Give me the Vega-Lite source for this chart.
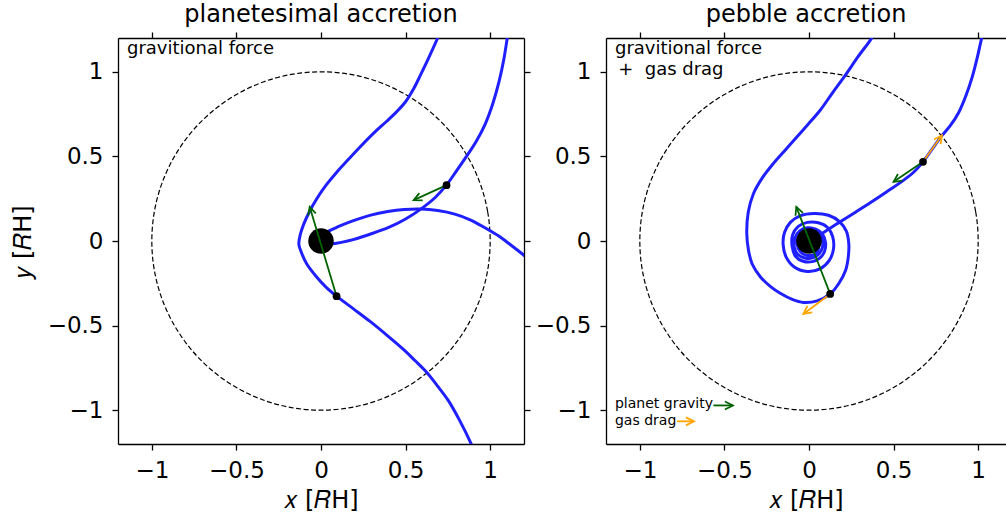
{
  "$schema": "https://vega.github.io/schema/vega-lite/v6.json",
  "padding": {"left": 11, "top": 3, "right": 0, "bottom": 0},
  "spacing": 4,
  "datasets": {
    "circle": [
      {"i":0,"x":1,"y":0},{"i":1,"x":0.985,"y":0.174},{"i":2,"x":0.94,"y":0.342},{"i":3,"x":0.866,"y":0.5},
      {"i":4,"x":0.766,"y":0.643},{"i":5,"x":0.643,"y":0.766},{"i":6,"x":0.5,"y":0.866},{"i":7,"x":0.342,"y":0.94},
      {"i":8,"x":0.174,"y":0.985},{"i":9,"x":0,"y":1},{"i":10,"x":-0.174,"y":0.985},{"i":11,"x":-0.342,"y":0.94},
      {"i":12,"x":-0.5,"y":0.866},{"i":13,"x":-0.643,"y":0.766},{"i":14,"x":-0.766,"y":0.643},{"i":15,"x":-0.866,"y":0.5},
      {"i":16,"x":-0.94,"y":0.342},{"i":17,"x":-0.985,"y":0.174},{"i":18,"x":-1,"y":0},{"i":19,"x":-0.985,"y":-0.174},
      {"i":20,"x":-0.94,"y":-0.342},{"i":21,"x":-0.866,"y":-0.5},{"i":22,"x":-0.766,"y":-0.643},{"i":23,"x":-0.643,"y":-0.766},
      {"i":24,"x":-0.5,"y":-0.866},{"i":25,"x":-0.342,"y":-0.94},{"i":26,"x":-0.174,"y":-0.985},{"i":27,"x":0,"y":-1},
      {"i":28,"x":0.174,"y":-0.985},{"i":29,"x":0.342,"y":-0.94},{"i":30,"x":0.5,"y":-0.866},{"i":31,"x":0.643,"y":-0.766},
      {"i":32,"x":0.766,"y":-0.643},{"i":33,"x":0.866,"y":-0.5},{"i":34,"x":0.94,"y":-0.342},{"i":35,"x":0.985,"y":-0.174}
    ],
    "planet": [{"x":0,"y":0}],
    "curves": [
      {"panel":"L","id":"L1","i":0,"x":0.712,"y":1.25},{"panel":"L","id":"L1","i":1,"x":0.690,"y":1.2},
      {"panel":"L","id":"L1","i":2,"x":0.640,"y":1.09},{"panel":"L","id":"L1","i":3,"x":0.590,"y":0.985},
      {"panel":"L","id":"L1","i":4,"x":0.545,"y":0.895},{"panel":"L","id":"L1","i":5,"x":0.500,"y":0.823},
      {"panel":"L","id":"L1","i":6,"x":0.448,"y":0.765},{"panel":"L","id":"L1","i":7,"x":0.385,"y":0.705},
      {"panel":"L","id":"L1","i":8,"x":0.310,"y":0.636},{"panel":"L","id":"L1","i":9,"x":0.235,"y":0.560},
      {"panel":"L","id":"L1","i":10,"x":0.160,"y":0.480},{"panel":"L","id":"L1","i":11,"x":0.093,"y":0.407},
      {"panel":"L","id":"L1","i":12,"x":0.030,"y":0.330},{"panel":"L","id":"L1","i":13,"x":-0.025,"y":0.250},
      {"panel":"L","id":"L1","i":14,"x":-0.070,"y":0.170},{"panel":"L","id":"L1","i":15,"x":-0.102,"y":0.100},
      {"panel":"L","id":"L1","i":16,"x":-0.122,"y":0.040},{"panel":"L","id":"L1","i":17,"x":-0.131,"y":-0.018},
      {"panel":"L","id":"L1","i":18,"x":-0.117,"y":-0.065},{"panel":"L","id":"L1","i":19,"x":-0.084,"y":-0.136},
      {"panel":"L","id":"L1","i":20,"x":-0.027,"y":-0.211},{"panel":"L","id":"L1","i":21,"x":0.028,"y":-0.271},
      {"panel":"L","id":"L1","i":22,"x":0.092,"y":-0.326},{"panel":"L","id":"L1","i":23,"x":0.192,"y":-0.401},
      {"panel":"L","id":"L1","i":24,"x":0.292,"y":-0.477},{"panel":"L","id":"L1","i":25,"x":0.392,"y":-0.559},
      {"panel":"L","id":"L1","i":26,"x":0.492,"y":-0.645},{"panel":"L","id":"L1","i":27,"x":0.557,"y":-0.708},
      {"panel":"L","id":"L1","i":28,"x":0.622,"y":-0.773},{"panel":"L","id":"L1","i":29,"x":0.687,"y":-0.855},
      {"panel":"L","id":"L1","i":30,"x":0.751,"y":-0.941},{"panel":"L","id":"L1","i":31,"x":0.817,"y":-1.056},
      {"panel":"L","id":"L1","i":32,"x":0.885,"y":-1.193},{"panel":"L","id":"L1","i":33,"x":0.909,"y":-1.251},

      {"panel":"L","id":"L2","i":0,"x":1.108,"y":1.25},{"panel":"L","id":"L2","i":1,"x":1.101,"y":1.2},
      {"panel":"L","id":"L2","i":2,"x":1.080,"y":1.07},{"panel":"L","id":"L2","i":3,"x":1.052,"y":0.94},
      {"panel":"L","id":"L2","i":4,"x":1.015,"y":0.81},{"panel":"L","id":"L2","i":5,"x":0.970,"y":0.69},
      {"panel":"L","id":"L2","i":6,"x":0.918,"y":0.59},{"panel":"L","id":"L2","i":7,"x":0.860,"y":0.50},
      {"panel":"L","id":"L2","i":8,"x":0.800,"y":0.413},{"panel":"L","id":"L2","i":9,"x":0.741,"y":0.330},
      {"panel":"L","id":"L2","i":10,"x":0.675,"y":0.257},{"panel":"L","id":"L2","i":11,"x":0.600,"y":0.196},
      {"panel":"L","id":"L2","i":12,"x":0.500,"y":0.130},{"panel":"L","id":"L2","i":13,"x":0.400,"y":0.080},
      {"panel":"L","id":"L2","i":14,"x":0.290,"y":0.040},{"panel":"L","id":"L2","i":15,"x":0.190,"y":0.008},
      {"panel":"L","id":"L2","i":16,"x":0.120,"y":-0.008},{"panel":"L","id":"L2","i":17,"x":0.070,"y":-0.016},
      {"panel":"L","id":"L2","i":18,"x":0.017,"y":-0.018},

      {"panel":"L","id":"L3","i":0,"x":0.0,"y":0.024},{"panel":"L","id":"L3","i":1,"x":0.043,"y":0.057},
      {"panel":"L","id":"L3","i":2,"x":0.105,"y":0.086},{"panel":"L","id":"L3","i":3,"x":0.192,"y":0.120},
      {"panel":"L","id":"L3","i":4,"x":0.294,"y":0.153},{"panel":"L","id":"L3","i":5,"x":0.395,"y":0.174},
      {"panel":"L","id":"L3","i":6,"x":0.492,"y":0.186},{"panel":"L","id":"L3","i":7,"x":0.590,"y":0.189},
      {"panel":"L","id":"L3","i":8,"x":0.690,"y":0.180},{"panel":"L","id":"L3","i":9,"x":0.791,"y":0.159},
      {"panel":"L","id":"L3","i":10,"x":0.885,"y":0.124},{"panel":"L","id":"L3","i":11,"x":0.971,"y":0.077},
      {"panel":"L","id":"L3","i":12,"x":1.051,"y":0.029},{"panel":"L","id":"L3","i":13,"x":1.122,"y":-0.024},
      {"panel":"L","id":"L3","i":14,"x":1.194,"y":-0.080},{"panel":"L","id":"L3","i":15,"x":1.24,"y":-0.118},

      {"panel":"R","id":"R1","i":0,"x":0.391,"y":1.245},{"panel":"R","id":"R1","i":1,"x":0.372,"y":1.202},
      {"panel":"R","id":"R1","i":2,"x":0.291,"y":1.091},{"panel":"R","id":"R1","i":3,"x":0.214,"y":0.979},
      {"panel":"R","id":"R1","i":4,"x":0.137,"y":0.873},{"panel":"R","id":"R1","i":5,"x":0.066,"y":0.773},
      {"panel":"R","id":"R1","i":6,"x":-0.005,"y":0.690},{"panel":"R","id":"R1","i":7,"x":-0.072,"y":0.615},
      {"panel":"R","id":"R1","i":8,"x":-0.141,"y":0.537},{"panel":"R","id":"R1","i":9,"x":-0.210,"y":0.459},
      {"panel":"R","id":"R1","i":10,"x":-0.277,"y":0.372},{"panel":"R","id":"R1","i":11,"x":-0.328,"y":0.281},
      {"panel":"R","id":"R1","i":12,"x":-0.359,"y":0.171},{"panel":"R","id":"R1","i":13,"x":-0.368,"y":0.047},
      {"panel":"R","id":"R1","i":14,"x":-0.358,"y":-0.053},{"panel":"R","id":"R1","i":15,"x":-0.336,"y":-0.136},
      {"panel":"R","id":"R1","i":16,"x":-0.288,"y":-0.211},{"panel":"R","id":"R1","i":17,"x":-0.229,"y":-0.268},
      {"panel":"R","id":"R1","i":18,"x":-0.170,"y":-0.309},{"panel":"R","id":"R1","i":19,"x":-0.099,"y":-0.345},
      {"panel":"R","id":"R1","i":20,"x":-0.033,"y":-0.363},{"panel":"R","id":"R1","i":21,"x":0.048,"y":-0.354},
      {"panel":"R","id":"R1","i":22,"x":0.125,"y":-0.313},{"panel":"R","id":"R1","i":23,"x":0.178,"y":-0.248},
      {"panel":"R","id":"R1","i":24,"x":0.217,"y":-0.171},{"panel":"R","id":"R1","i":25,"x":0.233,"y":-0.088},
      {"panel":"R","id":"R1","i":26,"x":0.235,"y":-0.012},{"panel":"R","id":"R1","i":27,"x":0.22,"y":0.06},
      {"panel":"R","id":"R1","i":28,"x":0.18,"y":0.115},{"panel":"R","id":"R1","i":29,"x":0.115,"y":0.152},
      {"panel":"R","id":"R1","i":30,"x":0.03,"y":0.163},{"panel":"R","id":"R1","i":31,"x":-0.05,"y":0.15},
      {"panel":"R","id":"R1","i":32,"x":-0.11,"y":0.11},{"panel":"R","id":"R1","i":33,"x":-0.145,"y":0.05},
      {"panel":"R","id":"R1","i":34,"x":-0.153,"y":-0.02},{"panel":"R","id":"R1","i":35,"x":-0.135,"y":-0.095},
      {"panel":"R","id":"R1","i":36,"x":-0.085,"y":-0.155},{"panel":"R","id":"R1","i":37,"x":-0.01,"y":-0.18},
      {"panel":"R","id":"R1","i":38,"x":0.065,"y":-0.165},{"panel":"R","id":"R1","i":39,"x":0.12,"y":-0.115},
      {"panel":"R","id":"R1","i":40,"x":0.145,"y":-0.045},{"panel":"R","id":"R1","i":41,"x":0.14,"y":0.025},
      {"panel":"R","id":"R1","i":42,"x":0.11,"y":0.08},{"panel":"R","id":"R1","i":43,"x":0.055,"y":0.108},
      {"panel":"R","id":"R1","i":44,"x":-0.01,"y":0.11},{"panel":"R","id":"R1","i":45,"x":-0.065,"y":0.085},
      {"panel":"R","id":"R1","i":46,"x":-0.097,"y":0.035},{"panel":"R","id":"R1","i":47,"x":-0.1,"y":-0.03},
      {"panel":"R","id":"R1","i":48,"x":-0.08,"y":-0.09},{"panel":"R","id":"R1","i":49,"x":-0.035,"y":-0.12},
      {"panel":"R","id":"R1","i":50,"x":0.02,"y":-0.122},{"panel":"R","id":"R1","i":51,"x":0.065,"y":-0.1},
      {"panel":"R","id":"R1","i":52,"x":0.092,"y":-0.06},{"panel":"R","id":"R1","i":53,"x":0.098,"y":-0.01},
      {"panel":"R","id":"R1","i":54,"x":0.08,"y":0.04},{"panel":"R","id":"R1","i":55,"x":0.04,"y":0.07},
      {"panel":"R","id":"R1","i":56,"x":-0.01,"y":0.078},{"panel":"R","id":"R1","i":57,"x":-0.055,"y":0.06},
      {"panel":"R","id":"R1","i":58,"x":-0.082,"y":0.02},{"panel":"R","id":"R1","i":59,"x":-0.087,"y":-0.035},
      {"panel":"R","id":"R1","i":60,"x":-0.065,"y":-0.08},{"panel":"R","id":"R1","i":61,"x":-0.025,"y":-0.1},
      {"panel":"R","id":"R1","i":62,"x":0.02,"y":-0.1},{"panel":"R","id":"R1","i":63,"x":0.06,"y":-0.075},
      {"panel":"R","id":"R1","i":64,"x":0.08,"y":-0.035},{"panel":"R","id":"R1","i":65,"x":0.078,"y":0.01},
      {"panel":"R","id":"R1","i":66,"x":0.055,"y":0.045},{"panel":"R","id":"R1","i":67,"x":0.015,"y":0.06},
      {"panel":"R","id":"R1","i":68,"x":-0.03,"y":0.055},{"panel":"R","id":"R1","i":69,"x":-0.06,"y":0.025},
      {"panel":"R","id":"R1","i":70,"x":-0.07,"y":-0.02},{"panel":"R","id":"R1","i":71,"x":-0.05,"y":-0.065},
      {"panel":"R","id":"R1","i":72,"x":-0.01,"y":-0.085},{"panel":"R","id":"R1","i":73,"x":0.03,"y":-0.08},
      {"panel":"R","id":"R1","i":74,"x":0.055,"y":-0.05},{"panel":"R","id":"R1","i":75,"x":0.05,"y":-0.015},

      {"panel":"R","id":"R2","i":0,"x":1.041,"y":1.257},{"panel":"R","id":"R2","i":1,"x":1.022,"y":1.202},
      {"panel":"R","id":"R2","i":2,"x":0.996,"y":1.090},{"panel":"R","id":"R2","i":3,"x":0.965,"y":0.970},
      {"panel":"R","id":"R2","i":4,"x":0.928,"y":0.860},{"panel":"R","id":"R2","i":5,"x":0.885,"y":0.760},
      {"panel":"R","id":"R2","i":6,"x":0.836,"y":0.683},{"panel":"R","id":"R2","i":7,"x":0.782,"y":0.618},
      {"panel":"R","id":"R2","i":8,"x":0.728,"y":0.543},{"panel":"R","id":"R2","i":9,"x":0.674,"y":0.468},
      {"panel":"R","id":"R2","i":10,"x":0.620,"y":0.408},{"panel":"R","id":"R2","i":11,"x":0.560,"y":0.360},
      {"panel":"R","id":"R2","i":12,"x":0.460,"y":0.291},{"panel":"R","id":"R2","i":13,"x":0.362,"y":0.226},
      {"panel":"R","id":"R2","i":14,"x":0.263,"y":0.163},{"panel":"R","id":"R2","i":15,"x":0.184,"y":0.113},
      {"panel":"R","id":"R2","i":16,"x":0.106,"y":0.064},{"panel":"R","id":"R2","i":17,"x":0.054,"y":0.031},
      {"panel":"R","id":"R2","i":18,"x":0.019,"y":0.012}
    ],
    "arrows": [
      {"panel":"L","kind":"gravity","x":0.742,"y":0.330,"x2":0.548,"y2":0.242,"angle":155.6},
      {"panel":"L","kind":"gravity","x":0.092,"y":-0.326,"x2":-0.067,"y2":0.202,"angle":-106.8},
      {"panel":"R","kind":"gravity","x":0.674,"y":0.468,"x2":0.5,"y2":0.35,"angle":145.9},
      {"panel":"R","kind":"drag","x":0.674,"y":0.468,"x2":0.786,"y2":0.625,"angle":-54.5},
      {"panel":"R","kind":"gravity","x":0.125,"y":-0.313,"x2":-0.075,"y2":0.202,"angle":-111.2},
      {"panel":"R","kind":"drag","x":0.125,"y":-0.313,"x2":-0.033,"y2":-0.431,"angle":143.2},
      {"panel":"R","kind":"gravity","x":-0.565,"y":-0.972,"x2":-0.45,"y2":-0.972,"angle":0},
      {"panel":"R","kind":"drag","x":-0.78,"y":-1.066,"x2":-0.68,"y2":-1.066,"angle":0}
    ],
    "dots": [
      {"panel":"L","x":0.742,"y":0.330},{"panel":"L","x":0.092,"y":-0.326},
      {"panel":"R","x":0.674,"y":0.468},{"panel":"R","x":0.125,"y":-0.313}
    ],
    "texts": [
      {"panel":"L","kind":"big","x":-1.147,"y":1.136,"text":"gravitional force"},
      {"panel":"R","kind":"big","x":-1.147,"y":1.137,"text":"gravitional force"},
      {"panel":"R","kind":"big","x":-1.128,"y":1.013,"text":"+ \u00a0gas drag"},
      {"panel":"R","kind":"small","x":-1.147,"y":-0.962,"text":"planet gravity"},
      {"panel":"R","kind":"small","x":-1.147,"y":-1.062,"text":"gas drag"}
    ]
  },
  "hconcat": [
    {
      "width": 406, "height": 406,
      "title": {"text": "planetesimal accretion"},
      "encoding": {
        "x": {"field":"x","type":"quantitative","scale":{"domain":[-1.2,1.2],"nice":false,"zero":false},"axis":null},
        "y": {"field":"y","type":"quantitative","scale":{"domain":[-1.2,1.2],"nice":false,"zero":false},"axis":null}
      },
      "layer": [
        {"data":{"name":"circle"},
         "mark":{"type":"line","interpolate":"cardinal-closed","color":"black","strokeWidth":1.2,"strokeDash":[5,2.5],"clip":true},
         "encoding":{
           "x":{"field":"x","type":"quantitative","scale":{"domain":[-1.2,1.2],"nice":false,"zero":false},
                "axis":{"orient":"bottom","title":"𝑥 [𝑅H]","values":[-1,-0.5,0,0.5,1],"labelFlush":false,"labelExpr":"datum.value < 0 ? '−' + format(-datum.value, '') : format(datum.value, '')"}},
           "y":{"field":"y","type":"quantitative","scale":{"domain":[-1.2,1.2],"nice":false,"zero":false},
                "axis":{"orient":"left","title":"𝑦 [𝑅H]","values":[-1,-0.5,0,0.5,1],"labelFlush":false,"labelExpr":"datum.value < 0 ? '−' + format(-datum.value, '') : format(datum.value, '')"}},
           "order":{"field":"i","type":"quantitative"}
         }},
        {"data":{"name":"curves"},"transform":[{"filter":"datum.panel === 'L'"}],
         "mark":{"type":"line","interpolate":"catmull-rom","color":"#1f1fff","strokeWidth":3,"clip":true},
         "encoding":{
           "x":{"field":"x","type":"quantitative","scale":{"domain":[-1.2,1.2],"nice":false,"zero":false},
                "axis":{"orient":"top","labels":false,"title":null,"values":[-1,-0.5,0,0.5,1]}},
           "y":{"field":"y","type":"quantitative","scale":{"domain":[-1.2,1.2],"nice":false,"zero":false},
                "axis":{"orient":"right","labels":false,"title":null,"values":[-1,-0.5,0,0.5,1]}},
           "detail":{"field":"id","type":"nominal"},
           "order":{"field":"i","type":"quantitative"}
         }},
        {"data":{"name":"planet"},"mark":{"type":"point","shape":"circle","filled":true,"color":"black","opacity":1,"size":650}},
        {"data":{"name":"arrows"},"transform":[{"filter":"datum.panel === 'L'"}],
         "mark":{"type":"rule","strokeWidth":1.8},
         "encoding":{"x2":{"field":"x2"},"y2":{"field":"y2"},
           "color":{"field":"kind","type":"nominal","scale":{"domain":["gravity","drag"],"range":["#006400","#ffa500"]},"legend":null}}},
        {"data":{"name":"arrows"},"transform":[{"filter":"datum.panel === 'L'"}],
         "mark":{"type":"point","shape":"M-1,-0.5L0,0L-1,0.5","filled":false,"opacity":1,"size":256,"strokeWidth":1.8},
         "encoding":{
           "x":{"field":"x2","type":"quantitative","scale":{"domain":[-1.2,1.2],"nice":false,"zero":false},"axis":null},
           "y":{"field":"y2","type":"quantitative","scale":{"domain":[-1.2,1.2],"nice":false,"zero":false},"axis":null},
           "angle":{"field":"angle","type":"quantitative","scale":null},
           "color":{"field":"kind","type":"nominal","scale":{"domain":["gravity","drag"],"range":["#006400","#ffa500"]},"legend":null}}},
        {"data":{"name":"dots"},"transform":[{"filter":"datum.panel === 'L'"}],
         "mark":{"type":"point","shape":"circle","filled":true,"color":"black","opacity":1,"size":60}},
        {"data":{"name":"texts"},"transform":[{"filter":"datum.panel === 'L' && datum.kind === 'big'"}],
         "mark":{"type":"text","align":"left","baseline":"middle","fontSize":18,"font":"DejaVu Sans","color":"black"},
         "encoding":{"text":{"field":"text"}}}
      ]
    },
    {
      "width": 400, "height": 406,
      "title": {"text": "pebble accretion"},
      "encoding": {
        "x": {"field":"x","type":"quantitative","scale":{"domain":[-1.2,1.1645],"nice":false,"zero":false},"axis":null},
        "y": {"field":"y","type":"quantitative","scale":{"domain":[-1.2,1.2],"nice":false,"zero":false},"axis":null}
      },
      "layer": [
        {"data":{"name":"circle"},
         "mark":{"type":"line","interpolate":"cardinal-closed","color":"black","strokeWidth":1.2,"strokeDash":[5,2.5],"clip":true},
         "encoding":{
           "x":{"field":"x","type":"quantitative","scale":{"domain":[-1.2,1.1645],"nice":false,"zero":false},
                "axis":{"orient":"bottom","title":"𝑥 [𝑅H]","values":[-1,-0.5,0,0.5,1],"labelFlush":false,"labelExpr":"datum.value < 0 ? '−' + format(-datum.value, '') : format(datum.value, '')"}},
           "y":{"field":"y","type":"quantitative","scale":{"domain":[-1.2,1.2],"nice":false,"zero":false},
                "axis":{"orient":"left","title":null,"values":[-1,-0.5,0,0.5,1],"labelFlush":false,"labelExpr":"datum.value < 0 ? '−' + format(-datum.value, '') : format(datum.value, '')"}},
           "order":{"field":"i","type":"quantitative"}
         }},
        {"data":{"name":"curves"},"transform":[{"filter":"datum.panel === 'R'"}],
         "mark":{"type":"line","interpolate":"catmull-rom","color":"#1f1fff","strokeWidth":3,"clip":true},
         "encoding":{
           "x":{"field":"x","type":"quantitative","scale":{"domain":[-1.2,1.1645],"nice":false,"zero":false},
                "axis":{"orient":"top","labels":false,"title":null,"values":[-1,-0.5,0,0.5,1]}},
           "y":{"field":"y","type":"quantitative","scale":{"domain":[-1.2,1.2],"nice":false,"zero":false},
                "axis":{"orient":"right","labels":false,"ticks":false,"domain":false,"title":null}},
           "detail":{"field":"id","type":"nominal"},
           "order":{"field":"i","type":"quantitative"}
         }},
        {"data":{"name":"planet"},"mark":{"type":"point","shape":"circle","filled":true,"color":"black","opacity":1,"size":650}},
        {"data":{"name":"arrows"},"transform":[{"filter":"datum.panel === 'R'"}],
         "mark":{"type":"rule","strokeWidth":1.8},
         "encoding":{"x2":{"field":"x2"},"y2":{"field":"y2"},
           "color":{"field":"kind","type":"nominal","scale":{"domain":["gravity","drag"],"range":["#006400","#ffa500"]},"legend":null}}},
        {"data":{"name":"arrows"},"transform":[{"filter":"datum.panel === 'R'"}],
         "mark":{"type":"point","shape":"M-1,-0.5L0,0L-1,0.5","filled":false,"opacity":1,"size":256,"strokeWidth":1.8},
         "encoding":{
           "x":{"field":"x2","type":"quantitative","scale":{"domain":[-1.2,1.1645],"nice":false,"zero":false},"axis":null},
           "y":{"field":"y2","type":"quantitative","scale":{"domain":[-1.2,1.2],"nice":false,"zero":false},"axis":null},
           "angle":{"field":"angle","type":"quantitative","scale":null},
           "color":{"field":"kind","type":"nominal","scale":{"domain":["gravity","drag"],"range":["#006400","#ffa500"]},"legend":null}}},
        {"data":{"name":"dots"},"transform":[{"filter":"datum.panel === 'R'"}],
         "mark":{"type":"point","shape":"circle","filled":true,"color":"black","opacity":1,"size":60}},
        {"data":{"name":"texts"},"transform":[{"filter":"datum.panel === 'R' && datum.kind === 'big'"}],
         "mark":{"type":"text","align":"left","baseline":"middle","fontSize":18,"font":"DejaVu Sans","color":"black"},
         "encoding":{"text":{"field":"text"}}},
        {"data":{"name":"texts"},"transform":[{"filter":"datum.panel === 'R' && datum.kind === 'small'"}],
         "mark":{"type":"text","align":"left","baseline":"middle","fontSize":14,"font":"DejaVu Sans","color":"black"},
         "encoding":{"text":{"field":"text"}}}
      ]
    }
  ],
  "config": {
    "font": "DejaVu Sans",
    "view": {"stroke": null},
    "axis": {"grid": false, "domainColor": "black", "domainWidth": 1.3, "tickColor": "black", "tickWidth": 1.3, "tickSize": 6,
             "labelFontSize": 23, "labelColor": "black", "labelFont": "DejaVu Sans", "labelPadding": 9,
             "titleFont": "DejaVu Sans", "titleFontSize": 24, "titleFontWeight": "normal", "titleColor": "black"},
    "axisX": {"titlePadding": 6},
    "axisY": {"titlePadding": 12},
    "title": {"fontSize": 24, "fontWeight": "normal", "font": "DejaVu Sans", "color": "black", "offset": 4}
  }
}
